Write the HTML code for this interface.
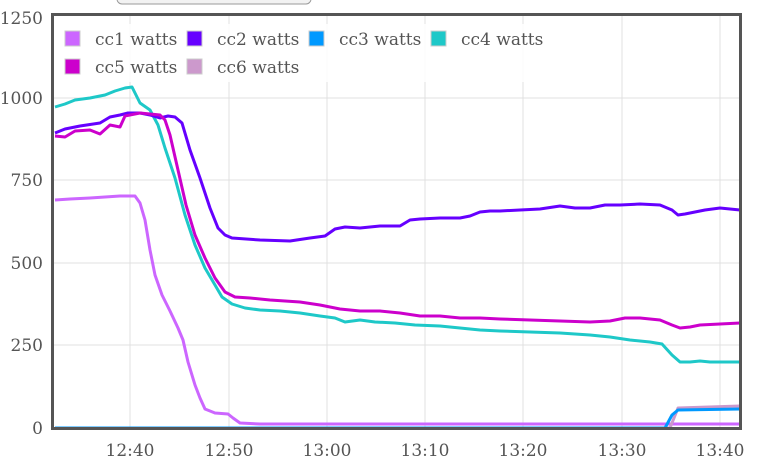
<!DOCTYPE html>
<html><head><style>
body{margin:0;background:#fff;}
svg{display:block;font-family:"DejaVu Serif","Liberation Serif",serif;}
</style></head><body>
<svg width="758" height="459" xmlns="http://www.w3.org/2000/svg">
<rect x="117" y="-8" width="194" height="12" rx="5" fill="#f2f2f2" stroke="#999"/>
<g stroke="#e0e0e0" stroke-width="1">
<line x1="52" x2="741" y1="98" y2="98"/><line x1="52" x2="741" y1="180" y2="180"/>
<line x1="52" x2="741" y1="263" y2="263"/><line x1="52" x2="741" y1="345" y2="345"/>
<line x1="130" x2="130" y1="14" y2="428"/><line x1="229" x2="229" y1="14" y2="428"/>
<line x1="327" x2="327" y1="14" y2="428"/><line x1="425" x2="425" y1="14" y2="428"/>
<line x1="523" x2="523" y1="14" y2="428"/><line x1="622" x2="622" y1="14" y2="428"/>
<line x1="720" x2="720" y1="14" y2="428"/>
</g>
<g fill="none" stroke-width="3" stroke-linejoin="round">
<polyline stroke="#1ec8c8" points="55,107 65,104 75,100 90,98 105,95 115,91 125,88 132,87 140,103 150,110 158,125 165,148 175,178 185,215 195,245 205,268 215,285 222,297 232,304 245,308 260,310 280,311 300,313 320,316 335,318 345,322 360,320 375,322 395,323 415,325 440,326 460,328 480,330 500,331 530,332 560,333 590,335 610,337 630,340 650,342 662,344 672,355 680,362 690,362 700,361 710,362 720,362 740,362"/>
<polyline stroke="#6600ff" points="55,133 65,129 80,126 100,123 110,117 120,115 128,113 140,113 150,115 160,118 168,116 175,117 182,123 190,150 200,178 210,208 218,228 225,235 232,238 260,240 290,241 310,238 325,236 335,229 345,227 360,228 380,226 400,226 410,220 420,219 440,218 460,218 470,216 480,212 490,211 500,211 520,210 540,209 560,206 575,208 590,208 605,205 620,205 640,204 660,205 672,210 678,215 685,214 695,212 705,210 720,208 740,210"/>
<polyline stroke="#cc00cc" points="55,136 65,137 75,131 90,130 100,134 110,125 120,127 125,116 140,113 160,115 165,120 170,135 178,170 186,205 195,235 205,258 215,278 225,292 235,297 250,298 270,300 300,302 320,305 340,309 360,311 380,311 400,313 420,316 440,316 460,318 480,318 500,319 530,320 560,321 590,322 610,321 625,318 640,318 660,320 672,325 680,328 690,327 700,325 720,324 740,323"/>
<polyline stroke="#cc66ff" points="55,200 70,199 90,198 105,197 120,196 135,196 140,203 145,220 150,250 155,275 162,295 170,311 178,328 183,340 188,362 195,385 200,398 205,409 215,413 228,414 233,418 240,423 260,424 400,424 660,424 740,424"/>
<polyline stroke="#cc99cc" points="55,428 670,428 678,408 740,406"/>
<polyline stroke="#0099ff" points="55,428 665,428 672,415 678,410 740,409"/>
</g>
<rect x="52.5" y="14.5" width="688" height="414" fill="none" stroke="#555" stroke-width="3"/>
<rect x="60" y="24" width="490" height="58" fill="#fff" opacity="0.85"/>
<g font-size="17" fill="#555">
<rect x="65" y="31" width="15" height="15" fill="#cc66ff" stroke="#ccc"/><text x="95" y="45">cc1 watts</text>
<rect x="187" y="31" width="15" height="15" fill="#6600ff" stroke="#ccc"/><text x="217" y="45">cc2 watts</text>
<rect x="309" y="31" width="15" height="15" fill="#0099ff" stroke="#ccc"/><text x="339" y="45">cc3 watts</text>
<rect x="431" y="31" width="15" height="15" fill="#1ec8c8" stroke="#ccc"/><text x="461" y="45">cc4 watts</text>
<rect x="65" y="59" width="15" height="15" fill="#cc00cc" stroke="#ccc"/><text x="95" y="73">cc5 watts</text>
<rect x="187" y="59" width="15" height="15" fill="#cc99cc" stroke="#ccc"/><text x="217" y="73">cc6 watts</text>
</g>
<g font-size="17" fill="#555" text-anchor="end">
<text x="43" y="24">1250</text><text x="43" y="104">1000</text><text x="43" y="186">750</text>
<text x="43" y="269">500</text><text x="43" y="351">250</text><text x="43" y="434">0</text>
</g>
<g font-size="17" fill="#555" text-anchor="middle">
<text x="130" y="456">12:40</text><text x="229" y="456">12:50</text><text x="327" y="456">13:00</text>
<text x="425" y="456">13:10</text><text x="523" y="456">13:20</text><text x="622" y="456">13:30</text>
<text x="720" y="456">13:40</text>
</g>
</svg>
</body></html>
